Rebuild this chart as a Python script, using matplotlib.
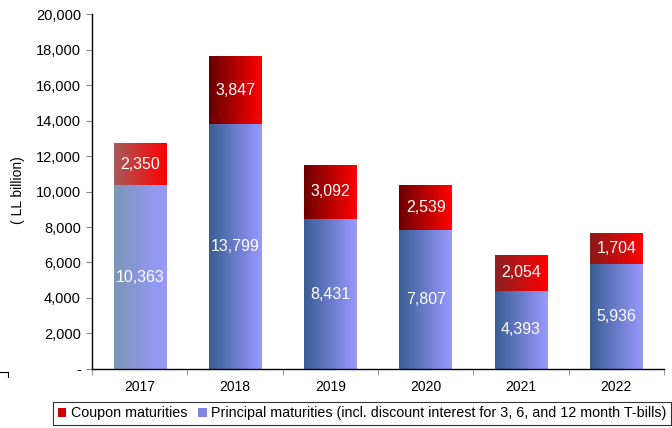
import numpy as np
import matplotlib
matplotlib.use("Agg")
import matplotlib.pyplot as plt
from matplotlib.colors import to_rgb
from matplotlib.lines import Line2D
from matplotlib.patches import Patch
from matplotlib.ticker import FuncFormatter, FixedLocator

plt.rcParams['font.family'] = ['Liberation Sans', 'DejaVu Sans']

years = ['2017', '2018', '2019', '2020', '2021', '2022']
principal = [10363, 13799, 8431, 7807, 4393, 5936]
coupon = [2350, 3847, 3092, 2539, 2054, 1704]

# left edge colour of each bar's gradient (right edge is the same for all)
principal_left = ['#7b97b8', '#3a5e94', '#3a5e94', '#3a5e94', '#3a5e94', '#3a5e94']
coupon_left = ['#a85a5a', '#660000', '#6e0000', '#6e0000', '#8b2020', '#8b1a1a']
principal_right = '#9999ff'
coupon_right = '#ff0000'


def gradient_fill(ax, patch, c0, c1):
    x0, y0 = patch.get_x(), patch.get_y()
    w, h = patch.get_width(), patch.get_height()
    t = np.linspace(0, 1, 64)[None, :, None]
    img = (1 - t) * np.array(to_rgb(c0)) + t * np.array(to_rgb(c1))
    im = ax.imshow(img, extent=[x0, x0 + w, y0, y0 + h], aspect='auto',
                   interpolation='bilinear', zorder=2)
    im.set_clip_path(patch)


def main():
    fig = plt.figure(figsize=(6.72, 4.28), dpi=100)
    ax = fig.add_axes([0.137, 0.138, 0.851, 0.829])

    x = np.arange(len(years))
    width = 0.55
    bars_p = ax.bar(x, principal, width, color='none', edgecolor='none', zorder=1)
    bars_c = ax.bar(x, coupon, width, bottom=principal, color='none',
                    edgecolor='none', zorder=1)

    for i in range(len(years)):
        gradient_fill(ax, bars_p[i], principal_left[i], principal_right)
        gradient_fill(ax, bars_c[i], coupon_left[i], coupon_right)
        ax.text(x[i], principal[i] / 2, f'{principal[i]:,}', color='white',
                ha='center', va='center', fontsize=11.5, zorder=3)
        ax.text(x[i], principal[i] + coupon[i] / 2, f'{coupon[i]:,}', color='white',
                ha='center', va='center', fontsize=11.5, zorder=3)

    ax.set_xlim(-0.5, len(years) - 0.5)
    ax.set_ylim(0, 20000)
    ax.set_yticks(range(0, 20001, 2000))
    ax.yaxis.set_major_formatter(FuncFormatter(lambda v, p: '-' if v == 0 else f'{int(v):,}'))
    ax.set_xticks(x)
    ax.set_xticklabels(years)
    ax.xaxis.set_minor_locator(FixedLocator(np.arange(-0.5, len(years), 1.0)))
    ax.tick_params(axis='x', which='major', length=0, labelsize=10, pad=8)
    ax.tick_params(axis='x', which='minor', length=4, color='#888888', direction='out')
    ax.tick_params(axis='y', length=4, color='#888888', labelsize=10.5, pad=4)

    for s in ['top', 'right']:
        ax.spines[s].set_visible(False)
    ax.spines['left'].set_linewidth(1.0)
    ax.spines['bottom'].set_linewidth(1.0)

    fig.text(0.027, 0.555, '( LL billion)', rotation=90, ha='center', va='center',
             fontsize=10)

    handles = [Patch(facecolor='#cc0000', edgecolor='none'),
               Patch(facecolor='#7f86e0', edgecolor='none')]
    labels = ['Coupon maturities',
              'Principal maturities (incl. discount interest for 3, 6, and 12 month T-bills)']
    leg = fig.legend(handles, labels, loc='center', bbox_to_anchor=(0.539, 0.034),
                     ncol=2, fontsize=10.3, frameon=True, fancybox=False,
                     handlelength=0.6, handleheight=0.6, handletextpad=0.3,
                     columnspacing=0.8, borderpad=0.3)
    leg.get_frame().set_edgecolor('black')
    leg.get_frame().set_linewidth(0.8)

    # small corner mark at the lower left
    fig.add_artist(Line2D([0.0, 0.012], [0.131, 0.131], color='black', lw=0.8))
    fig.add_artist(Line2D([0.012, 0.012], [0.131, 0.118], color='black', lw=0.8))

    fig.savefig('out.png', dpi=100)


if __name__ == '__main__':
    main()
